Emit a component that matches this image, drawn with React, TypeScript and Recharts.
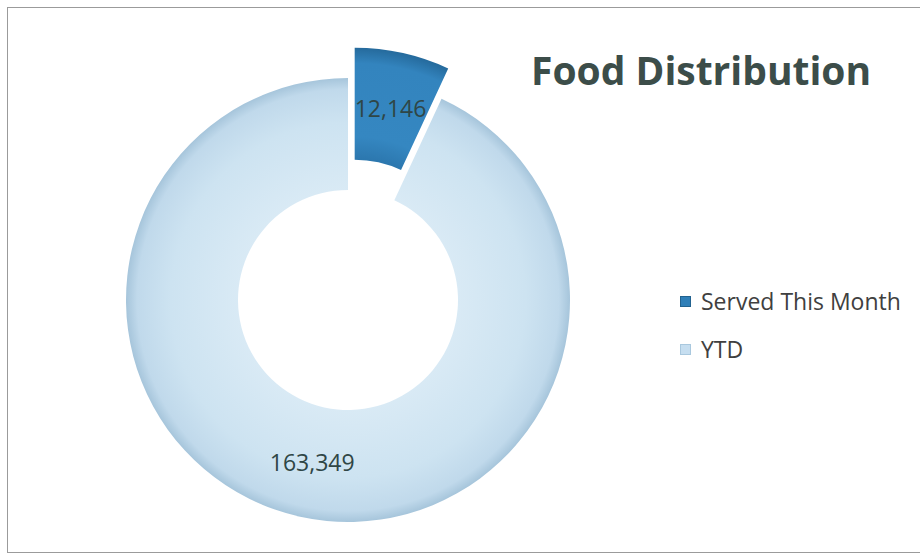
import { PieChart, Pie, Cell, Legend } from "recharts";

const categories = ["Served This Month", "YTD"];
const values = [12146, 163349];

const data = categories.map((name, i) => ({ name, value: values[i] }));

const W = 912;
const H = 544;
const CX = 340;
const CY = 292;
const INNER = 110;
const OUTER = 222;
const EXPLODE = 31;
const RAD = Math.PI / 180;

// the first slice is pulled out along its bisector
const total = values.reduce((a, b) => a + b, 0);
const midDeg = 90 - (values[0] / total) * 180;
const ex = CX + EXPLODE * Math.cos(midDeg * RAD);
const ey = CY - EXPLODE * Math.sin(midDeg * RAD);

const colors = ["url(#monthGrad)", "url(#ytdGrad)"];
const swatch = ["#2f7fb8", "#c6def0"];

function makeLabel(showIndex: number) {
  return (p: any) => {
    if (p.index !== showIndex) return null;
    const r = (p.innerRadius + p.outerRadius) / 2;
    const x = p.cx + r * Math.cos(-p.midAngle * RAD);
    const y = p.cy + r * Math.sin(-p.midAngle * RAD);
    return (
      <text
        x={x}
        y={y}
        textAnchor="middle"
        dominantBaseline="central"
        fill="#2f4646"
        fontSize={23}
        fontFamily="'Open Sans', sans-serif"
      >
        {Number(p.value).toLocaleString("en-US")}
      </text>
    );
  };
}

function LegendBox() {
  return (
    <div style={{ fontFamily: "'Open Sans', sans-serif", fontSize: 23, color: "#404040" }}>
      {categories.map((c, i) => (
        <div key={c} style={{ display: "flex", alignItems: "center", height: 24, marginBottom: 24 }}>
          <span
            style={{
              width: 11,
              height: 11,
              background: swatch[i],
              border: `1px solid ${i === 0 ? "#22628f" : "#a9c8de"}`,
              marginRight: 10,
              boxSizing: "border-box",
              flexShrink: 0,
            }}
          />
          <span style={{ whiteSpace: "nowrap" }}>{c}</span>
        </div>
      ))}
    </div>
  );
}

export default function App() {
  return (
    <div
      style={{
        position: "fixed",
        left: 7,
        top: 7,
        width: 940,
        height: H,
        borderTop: "1px solid #9b9b9b",
        borderLeft: "1px solid #9b9b9b",
        borderBottom: "1px solid #9b9b9b",
        background: "#fff",
      }}
    >
      <div
        style={{
          position: "absolute",
          left: 523,
          top: 42,
          fontFamily: "'Open Sans', sans-serif",
          fontWeight: 700,
          fontSize: 39,
          lineHeight: "40px",
          color: "#3c4d49",
          whiteSpace: "nowrap",
        }}
      >
        Food Distribution
      </div>
      <PieChart width={W} height={H} margin={{ top: 0, right: 0, bottom: 0, left: 0 }}>
        <defs>
          <radialGradient id="ytdGrad" gradientUnits="userSpaceOnUse" cx={CX} cy={CY} r={OUTER}>
            <stop offset="0.49" stopColor="#d9eaf5" />
            <stop offset="0.8" stopColor="#cde3f1" />
            <stop offset="0.95" stopColor="#c0d9eb" />
            <stop offset="1" stopColor="#a6c5db" />
          </radialGradient>
          <radialGradient id="monthGrad" gradientUnits="userSpaceOnUse" cx={ex} cy={ey} r={OUTER}>
            <stop offset="0.49" stopColor="#2b76ad" />
            <stop offset="0.6" stopColor="#3587c1" />
            <stop offset="0.93" stopColor="#3384be" />
            <stop offset="1" stopColor="#256a9c" />
          </radialGradient>
        </defs>
        <Pie
          data={data}
          dataKey="value"
          nameKey="name"
          cx={CX}
          cy={CY}
          innerRadius={INNER}
          outerRadius={OUTER}
          startAngle={90}
          endAngle={-270}
          stroke="none"
          label={makeLabel(1)}
          labelLine={false}
          isAnimationActive={false}
        >
          {data.map((d, i) => (
            <Cell key={d.name} fill={i === 1 ? colors[1] : "transparent"} />
          ))}
        </Pie>
        <Pie
          data={data}
          dataKey="value"
          nameKey="name"
          cx={ex}
          cy={ey}
          innerRadius={INNER}
          outerRadius={OUTER}
          startAngle={90}
          endAngle={-270}
          stroke="none"
          label={makeLabel(0)}
          labelLine={false}
          isAnimationActive={false}
        >
          {data.map((d, i) => (
            <Cell key={d.name} fill={i === 0 ? colors[0] : "transparent"} />
          ))}
        </Pie>
        <Legend content={<LegendBox />} wrapperStyle={{ left: 672, top: 281, width: 240 }} />
      </PieChart>
    </div>
  );
}
